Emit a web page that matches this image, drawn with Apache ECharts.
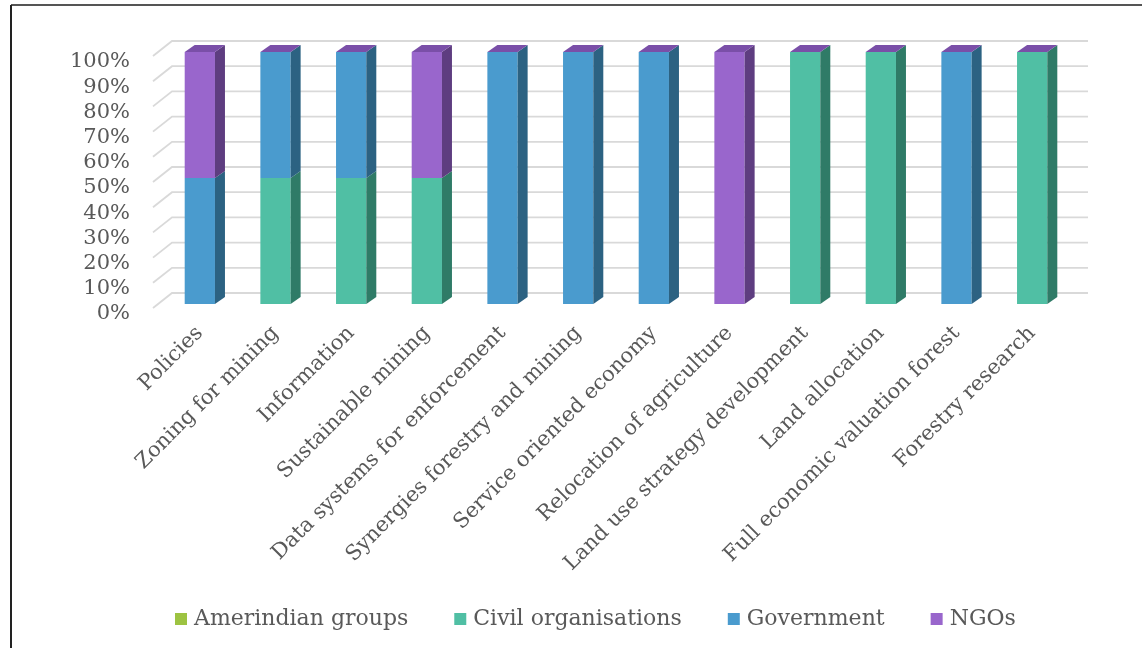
<!DOCTYPE html>
<html><head><meta charset="utf-8">
<script src="https://cdn.jsdelivr.net/npm/echarts@6/dist/echarts.min.js"></script>
<style>html,body{margin:0;padding:0;background:#fff}#c{width:1142px;height:648px}</style>
</head><body><div id="c"></div>
<script>
var categories = ['Policies','Zoning for mining','Information','Sustainable mining','Data systems for enforcement','Synergies forestry and mining','Service oriented economy','Relocation of agriculture','Land use strategy development','Land allocation','Full economic valuation forest','Forestry research'];
var amerindian = [0,0,0,0,0,0,0,0,0,0,0,0];
var civil      = [0,50,50,50,0,0,0,0,100,100,0,100];
var government = [50,50,50,0,100,100,100,0,0,0,100,0];
var ngos       = [50,0,0,50,0,0,0,100,0,0,0,0];
var yTicks = [0,10,20,30,40,50,60,70,80,90,100];

var FONT = 'DejaVu Serif';
var seriesDefs = [
  {name:'Amerindian groups', data:amerindian, front:'#9DC342', side:'#627A28'},
  {name:'Civil organisations', data:civil, front:'#50BFA4', side:'#2F7B67'},
  {name:'Government', data:government, front:'#4A9BCE', side:'#2C6282'},
  {name:'NGOs', data:ngos, front:'#9966CC', side:'#5E3D80', top:'#7A4FA8'}
];
var DX = 10, DY = 7;
var base = categories.map(function(){return 0;});
var series = [];

// 3D gridlines (floor diagonal + back wall)
series.push({
  type:'custom', name:'_grid', silent:true, z:1,
  data: yTicks.map(function(v){return [0, v];}),
  renderItem: function(params, api){
    var cs = params.coordSys;
    var y = api.coord([0, api.value(1)])[1];
    return {type:'polyline', shape:{points:[[cs.x-9, y+4],[cs.x+10, y-11],[cs.x+cs.width+18, y-11]]},
      style:{stroke:'#D9D9D9', lineWidth:1.8, fill:null}};
  }
});

seriesDefs.forEach(function(s, si){
  var items = s.data.map(function(v, i){
    var item = [i, base[i], base[i]+v];
    base[i] += v;
    return item;
  });
  var isLast = si === seriesDefs.length-1;
  series.push({
    type:'custom', name:s.name, z:2+si,
    itemStyle:{color:s.front},
    encode:{x:0, y:[1,2]},
    data: items,
    renderItem: function(params, api){
      var idx = api.value(0), b = api.value(1), t = api.value(2);
      var w = api.size([1,0])[0]*0.4;
      var p0 = api.coord([idx, b]), p1 = api.coord([idx, t]);
      var x = p0[0]-w/2, yb = p0[1], yt = p1[1];
      var children = [];
      if (t > b) {
        children.push({type:'rect', shape:{x:x, y:yt, width:w, height:yb-yt}, style:{fill:s.front}});
        children.push({type:'polygon', shape:{points:[[x+w,yt],[x+w+DX,yt-DY],[x+w+DX,yb-DY],[x+w,yb]]}, style:{fill:s.side}});
      }
      if (isLast) {
        children.push({type:'polygon', shape:{points:[[x,yt],[x+DX,yt-DY],[x+w+DX,yt-DY],[x+w,yt]]}, style:{fill:s.top}});
      }
      return {type:'group', children:children};
    }
  });
});

var chart = echarts.init(document.getElementById('c'));
chart.setOption({
  backgroundColor:'#fff',
  animation:false,
  graphic:[
    {type:'line', shape:{x1:11, y1:5, x2:1142, y2:5}, style:{stroke:'#555', lineWidth:2}},
    {type:'line', shape:{x1:11, y1:5, x2:11, y2:648}, style:{stroke:'#222', lineWidth:2}}
  ],
  grid:{left:162, right:72, top:52, bottom:344},
  xAxis:{type:'category', data:categories,
    axisLine:{show:false}, axisTick:{show:false}, splitLine:{show:false},
    axisLabel:{rotate:45, margin:26, interval:0, color:'#595959', fontFamily:FONT, fontSize:21}},
  yAxis:{type:'value', min:0, max:100, interval:10,
    axisLine:{show:false}, axisTick:{show:false}, splitLine:{show:false},
    axisLabel:{formatter:'{value}%', margin:32, color:'#595959', fontFamily:FONT, fontSize:21, verticalAlign:'top', lineHeight:20}},
  legend:{data:seriesDefs.map(function(s){return s.name;}), left:170, top:603, icon:'rect',
    itemWidth:12, itemHeight:12, itemGap:46,
    textStyle:{color:'#595959', fontFamily:FONT, fontSize:22, padding:[0,0,0,2]}},
  series:series
});
</script></body></html>
